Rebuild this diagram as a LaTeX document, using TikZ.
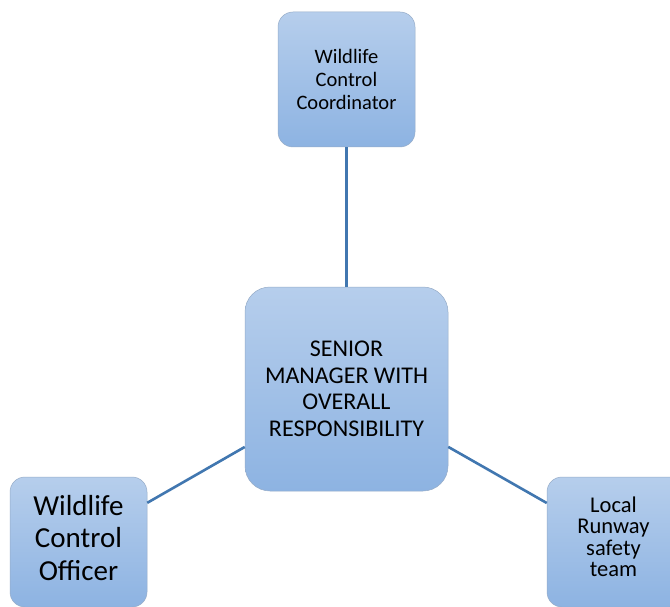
\documentclass[tikz,border=0pt]{standalone}
\usepackage{fontspec}
\setmainfont{Carlito}
\definecolor{boxtop}{RGB}{182,206,236}
\definecolor{boxbot}{RGB}{141,179,226}
\definecolor{boxedge}{RGB}{150,172,200}
\definecolor{linkblue}{RGB}{65,119,176}
\tikzset{
  orgbox/.style={rectangle, top color=boxtop, bottom color=boxbot, draw=boxedge, line width=0.5pt,
    align=center, text=black, inner sep=2pt},
  boxtext/.style={align=center, text=black, inner sep=0pt},
  link/.style={draw=linkblue, line width=2.6pt}
}
\begin{document}
\begin{tikzpicture}[x=1pt,y=-1pt]
\clip (0,0) rectangle (670,607);
\fill[white] (0,0) rectangle (670,607);
\node[orgbox, rounded corners=15pt, minimum width=137pt, minimum height=135pt,
  font=\fontsize{20.5}{23}\selectfont] (coord) at (346.5,79.5) {Wildlife\\Control\\Coordinator};
\node[orgbox, rounded corners=25pt, minimum width=203pt, minimum height=204pt,
  font=\fontsize{24}{26.5}\selectfont] (senior) at (346.5,389) {SENIOR\\MANAGER WITH\\OVERALL\\RESPONSIBILITY};
\node[orgbox, rounded corners=15pt, minimum width=137pt, minimum height=130pt] (officer) at (78.5,542) {};
\node[boxtext, font=\fontsize{29}{32.5}\selectfont] (officertext) at (78.5,538) {Wildlife\\Control\\Officer};
\node[orgbox, rounded corners=15pt, minimum width=137pt, minimum height=130pt] (runway) at (615.5,542) {};
\node[boxtext, font=\fontsize{22.5}{21.5}\selectfont] (runwaytext) at (613.5,537) {Local\\Runway\\safety\\team};
\draw[link] (coord) -- (senior);
\draw[link] (senior) -- (officer);
\draw[link] (senior) -- (runway);
\end{tikzpicture}
\end{document}
